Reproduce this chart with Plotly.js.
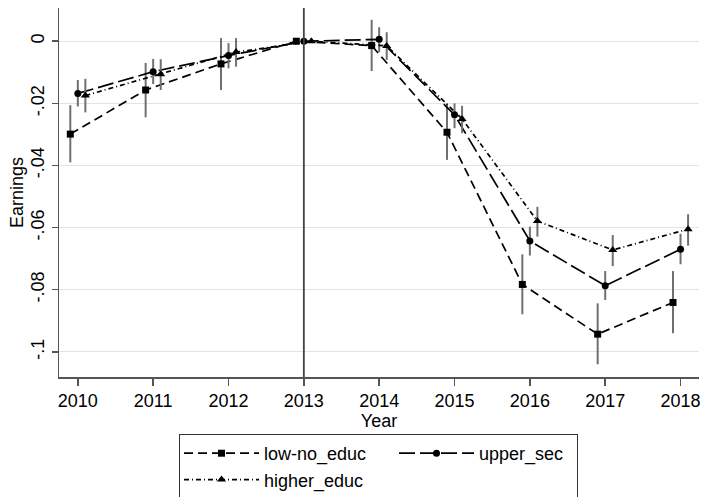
<!DOCTYPE html>
<html>
<head>
<meta charset="utf-8">
<script src="https://cdn.plot.ly/plotly-3.0.1.min.js"></script>
<style>html,body{margin:0;padding:0;background:#fff;}#chart{width:702px;height:497px;}</style>
</head>
<body>
<div id="chart"></div>
<script>
var years = [2010, 2011, 2012, 2013, 2014, 2015, 2016, 2017, 2018];
var xOffset = {low: -0.1, upper: 0, higher: 0.1};

var lowVal = [-0.0299, -0.0157, -0.0073, 0, -0.0014, -0.0293, -0.0783, -0.0943, -0.0841];
var lowLo  = [-0.0390, -0.0245, -0.0157, 0, -0.0096, -0.0382, -0.0879, -0.1040, -0.0940];
var lowHi  = [-0.0206, -0.0070, 0.0010, 0, 0.0069, -0.0200, -0.0686, -0.0844, -0.0740];

var upVal = [-0.0168, -0.0098, -0.0046, 0, 0.0006, -0.0237, -0.0643, -0.0787, -0.0670];
var upLo  = [-0.0210, -0.0138, -0.0087, 0, -0.0035, -0.0280, -0.0690, -0.0833, -0.0718];
var upHi  = [-0.0125, -0.0057, -0.0006, 0, 0.0045, -0.0200, -0.0597, -0.0740, -0.0620];

var hiVal = [-0.0175, -0.0106, -0.0035, 0, -0.0015, -0.0250, -0.0579, -0.0672, -0.0605];
var hiLo  = [-0.0229, -0.0157, -0.0082, 0, -0.0060, -0.0296, -0.0629, -0.0724, -0.0658];
var hiHi  = [-0.0121, -0.0058, 0.0010, 0, 0.0029, -0.0208, -0.0533, -0.0624, -0.0557];

var yTickVals = [0, -0.02, -0.04, -0.06, -0.08, -0.1];
var yTickText = ['0', '-.02', '-.04', '-.06', '-.08', '-.1'];

function mk(name, off, vals, lo, hi, dash, symbol, size, group) {
  return {
    type: 'scatter', mode: 'lines+markers', name: name, legendgroup: group,
    x: years.map(function (y) { return y + off; }),
    y: vals,
    line: {color: '#000', width: 1.7, dash: dash},
    marker: {color: '#000', symbol: symbol, size: size},
    error_y: {
      type: 'data', symmetric: false,
      array: hi.map(function (h, i) { return h - vals[i]; }),
      arrayminus: vals.map(function (v, i) { return v - lo[i]; }),
      color: '#707070', thickness: 2, width: 0
    }
  };
}

var traces = [
  mk('low-no_educ', xOffset.low, lowVal, lowLo, lowHi, '9px,5px', 'square', 7, 'col1'),
  mk('upper_sec', xOffset.upper, upVal, upLo, upHi, '16px,5px', 'circle', 7, 'col2'),
  mk('higher_educ', xOffset.higher, hiVal, hiLo, hiHi, '5px,3px,1px,3px', 'triangle-up', 8, 'col1')
];
traces[1].legendwidth = 93;

var font = {family: 'Liberation Sans, Arial, sans-serif', size: 18, color: '#000'};

var layout = {
  width: 702, height: 497,
  margin: {l: 59, r: 3, t: 8, b: 120, autoexpand: false},
  paper_bgcolor: '#fff', plot_bgcolor: '#fff',
  font: font,
  showlegend: true,
  xaxis: {
    range: [2009.75, 2018.245],
    tickvals: years, ticktext: years.map(String),
    showgrid: false, zeroline: false,
    showline: true, linecolor: '#555', linewidth: 1.5,
    ticks: 'outside', ticklen: 7, tickcolor: '#555', tickwidth: 1.5,
    ticklabelstandoff: 0,
    tickfont: font,
    title: {text: 'Year', font: font, standoff: 2}
  },
  yaxis: {
    range: [-0.1081, 0.0107],
    tickvals: yTickVals, ticktext: yTickText,
    tickangle: -90,
    showgrid: true, gridcolor: '#e3e3e3', gridwidth: 1.2,
    zeroline: false,
    showline: true, linecolor: '#555', linewidth: 1.5,
    ticks: 'outside', ticklen: 6, tickcolor: '#555', tickwidth: 1.5,
    tickfont: font,
    title: {text: 'Earnings', font: font, standoff: 0}
  },
  legend: {
    orientation: 'h',
    x: 0.1875, xanchor: 'left',
    y: -0.1545, yanchor: 'top',
    bordercolor: '#333', borderwidth: 1,
    itemwidth: 75,
    entrywidth: 125, entrywidthmode: 'pixels',
    tracegroupgap: 0,
    font: font,
    traceorder: 'grouped'
  },
  shapes: [{
    type: 'line', xref: 'x', yref: 'paper',
    x0: 2013, x1: 2013, y0: 0, y1: 1,
    line: {color: '#444', width: 1.8}
  }]
};

Plotly.newPlot('chart', traces, layout, {displayModeBar: false, staticPlot: true});
</script>
</body>
</html>
